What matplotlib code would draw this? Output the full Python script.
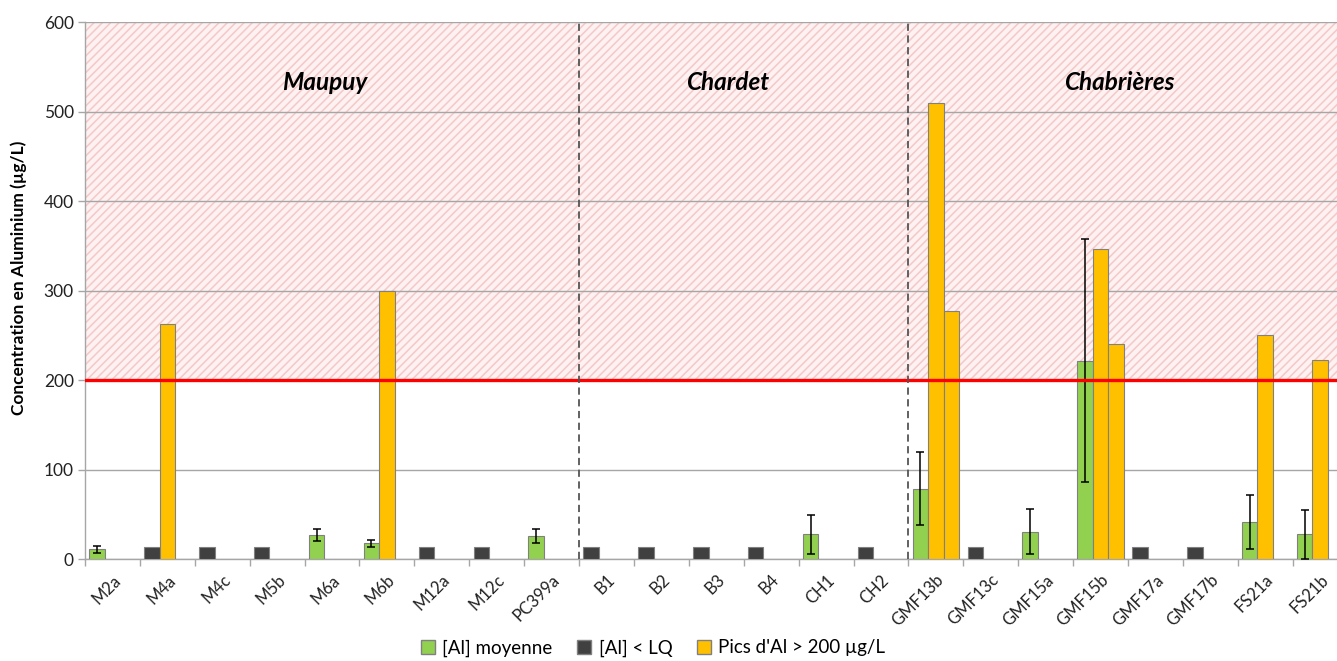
import matplotlib.pyplot as plt
import matplotlib.patches as mpatches
import numpy as np

plt.rcParams['font.family'] = ['Lato', 'DejaVu Sans']
plt.rcParams['hatch.linewidth'] = 1.1

stations = ["M2a", "M4a", "M4c", "M5b", "M6a", "M6b", "M12a", "M12c", "PC399a",
            "B1", "B2", "B3", "B4", "CH1", "CH2",
            "GMF13b", "GMF13c", "GMF15a", "GMF15b", "GMF17a", "GMF17b", "FS21a", "FS21b"]
nan = np.nan
# mean Al concentration and its spread (ug/L)
al_mean = [11, nan, nan, nan, 27, 18, nan, nan, 26,
           nan, nan, nan, nan, 28, nan,
           79, nan, 31, 222, nan, nan, 42, 28]
al_err = [4, nan, nan, nan, 6.5, 3.7, nan, nan, 8,
          nan, nan, nan, nan, 22, nan,
          41, nan, 25.5, 136, nan, nan, 30, 27.5]
# below quantification limit
al_lq = [nan, 14, 14, 14, nan, nan, 14, 14, nan,
         14, 14, 14, 14, nan, 14,
         nan, 14, nan, nan, 14, 14, nan, nan]
# Al peaks above 200 ug/L
pic1 = [nan, 263, nan, nan, nan, 300, nan, nan, nan,
        nan, nan, nan, nan, nan, nan,
        510, nan, nan, 347, nan, nan, 251, 223]
pic2 = [nan, nan, nan, nan, nan, nan, nan, nan, nan,
        nan, nan, nan, nan, nan, nan,
        277, nan, nan, 241, nan, nan, nan, nan]
seuil = 200
sites = ["Maupuy", "Chardet", "Chabrières"]
site_x = [3.86, 11.21, 18.35]
site_sep = [8.5, 14.5]

green = '#92D050'
dark = '#404040'
orange = '#FFC000'
edge = '#808080'

fig = plt.figure(figsize=(13.37, 6.61), dpi=100)
ax = fig.add_axes([0.0636, 0.1538, 0.9443, 0.8129])

x = np.arange(len(stations))
w = 0.2815

# zone above threshold
ax.axhspan(seuil, 600, facecolor='#fdf1f1', edgecolor='#f5c8c8', hatch='////', linewidth=0, zorder=0)

ax.bar(x - w, al_mean, width=w, color=green, edgecolor=edge, linewidth=0.8, zorder=3)
ax.errorbar(x - w, al_mean, yerr=al_err, fmt='none', ecolor='black', elinewidth=1.1, capsize=3, capthick=1.1, zorder=4)
ax.bar(x - w, al_lq, width=w, color=dark, edgecolor=edge, linewidth=0.8, zorder=3)
ax.bar(x, pic1, width=w, color=orange, edgecolor=edge, linewidth=0.8, zorder=3)
ax.bar(x + w, pic2, width=w, color=orange, edgecolor=edge, linewidth=0.8, zorder=3)

ax.axhline(seuil, color='#ff0000', linewidth=2.4, zorder=5)
for s in site_sep:
    ax.axvline(s, color='#555555', linewidth=1.3, linestyle=(0, (4, 2.5)), zorder=6)

for name, sx in zip(sites, site_x):
    ax.text(sx, 532, name, ha='center', va='center', fontsize=17.5, fontweight='bold', fontstyle='italic')

ax.set_xlim(-0.5, len(stations) - 0.5)
ax.set_ylim(0, 600)
ax.set_yticks(np.arange(0, 601, 100))
ax.yaxis.grid(True, color='#a6a6a6', linewidth=1.0, zorder=1)
ax.set_axisbelow(True)

ax.set_xticks(x)
ax.set_xticklabels(stations, rotation=45, ha='right', rotation_mode='anchor', fontsize=12, color='#222222')
ax.set_xticks(np.arange(-0.5, len(stations), 1), minor=True)
ax.tick_params(axis='x', which='major', length=0, pad=9)
ax.tick_params(axis='x', which='minor', length=5, color='#a6a6a6', width=1)
ax.tick_params(axis='y', length=5, color='#a6a6a6', width=1, labelsize=12.5, labelcolor='#222222', pad=3)

for side in ['top', 'right']:
    ax.spines[side].set_visible(False)
for side in ['left', 'bottom']:
    ax.spines[side].set_color('#a6a6a6')
    ax.spines[side].set_linewidth(1.0)

fig.text(19 / 1337, 1 - 278 / 661, "Concentration en Aluminium (µg/L)", rotation=90,
         ha='center', va='center', fontsize=12.5, fontweight='bold')

handles = [mpatches.Patch(facecolor=green, edgecolor=edge, label="[Al] moyenne"),
           mpatches.Patch(facecolor=dark, edgecolor=edge, label="[Al] < LQ"),
           mpatches.Patch(facecolor=orange, edgecolor=edge, label="Pics d'Al > 200 µg/L")]
fig.legend(handles=handles, loc='center', bbox_to_anchor=(653 / 1337, 1 - 648 / 661), ncol=3,
           frameon=False, fontsize=13.5, handlelength=0.75, handleheight=0.75, handletextpad=0.4,
           columnspacing=1.3)

plt.savefig("out.png", dpi=100)
